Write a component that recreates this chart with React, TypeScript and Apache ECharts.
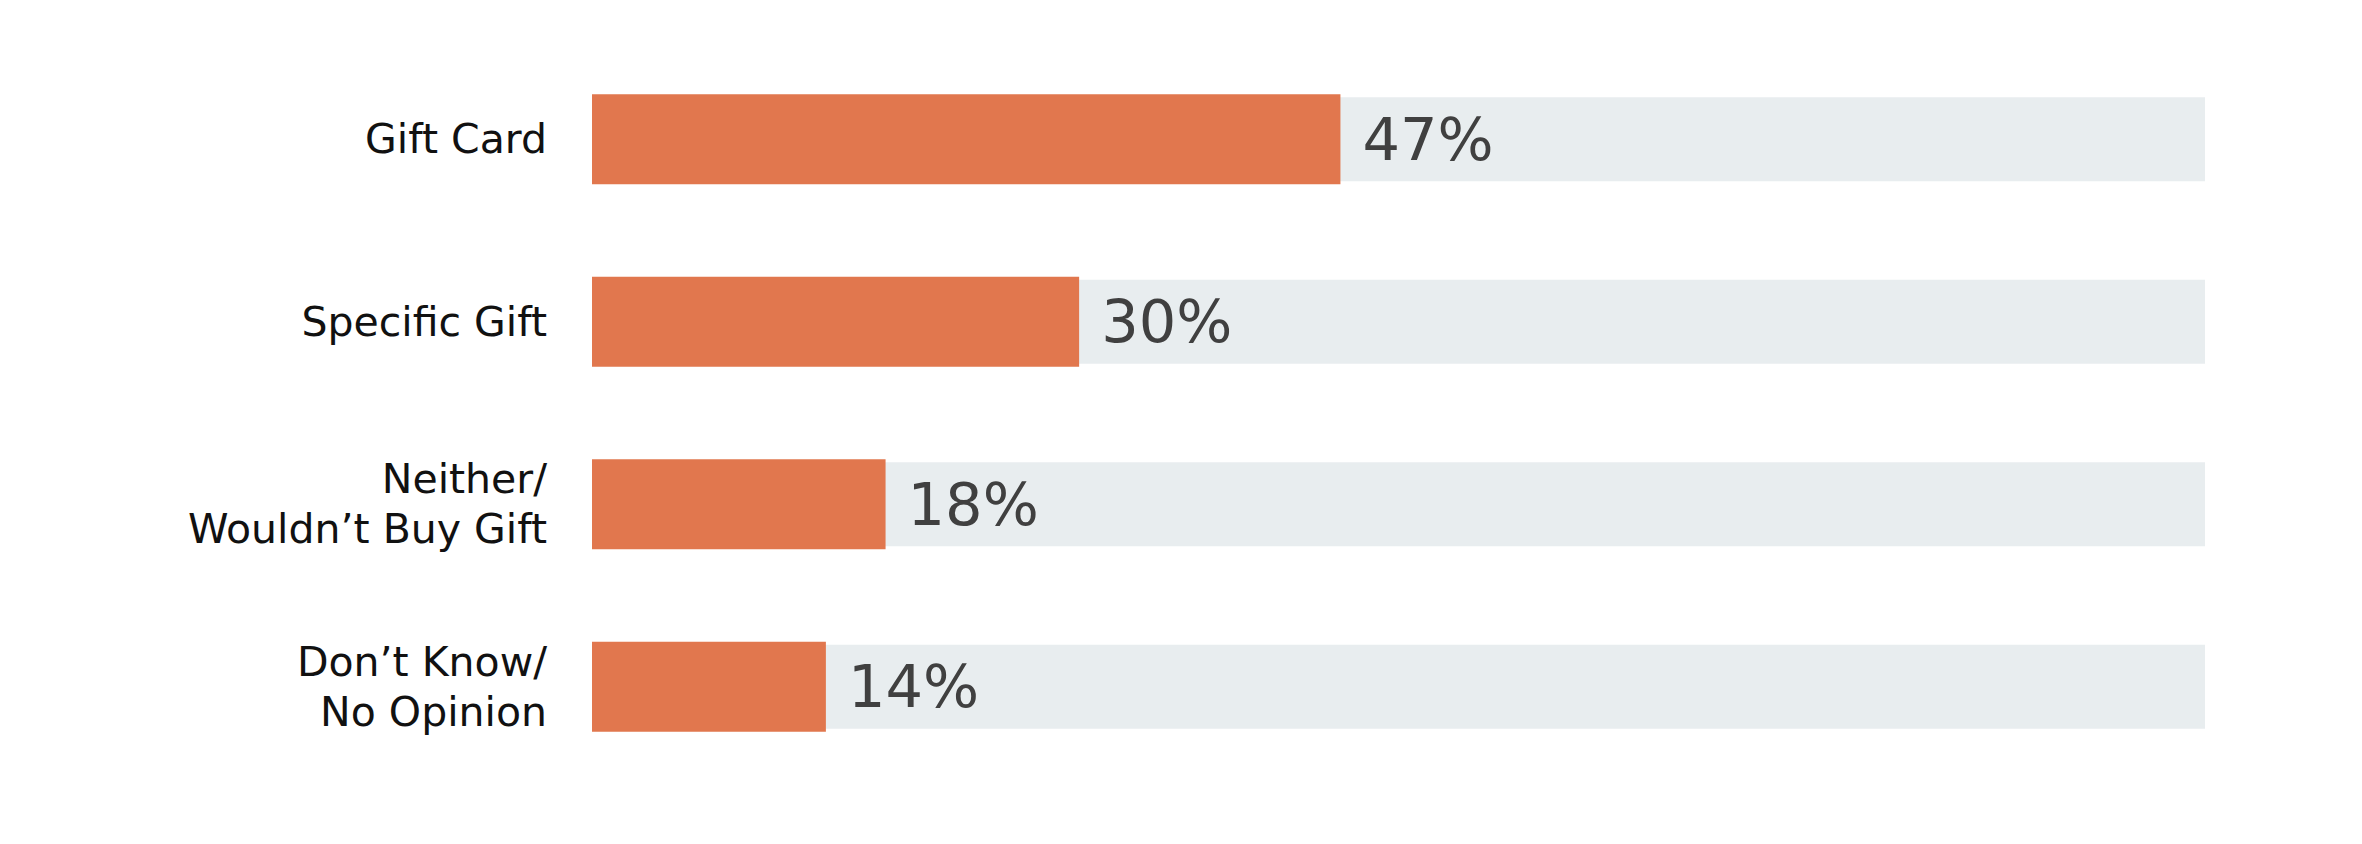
import React, { useEffect, useRef } from "react";
import * as echarts from "echarts";

const categories = ["Gift Card", "Specific Gift", "Neither/\nWouldn’t Buy Gift", "Don’t Know/\nNo Opinion"];
const values = [46.4, 30.2, 18.2, 14.5];
const valueLabels = ["47%", "30%", "18%", "14%"];
const track = [100, 100, 100, 100];

const FONT = "'DejaVu Sans', sans-serif";

export default function App() {
  const ref = useRef<HTMLDivElement>(null);
  useEffect(() => {
    if (!ref.current) return;
    const chart = echarts.init(ref.current, null, { renderer: "svg" });
    chart.setOption({
      animation: false,
      backgroundColor: "#ffffff",
      grid: { left: 592, right: 157, top: 48, bottom: 66, containLabel: false },
      xAxis: { type: "value", min: 0, max: 100, show: false },
      yAxis: [
        {
          type: "category",
          data: categories,
          inverse: true,
          axisLine: { show: false },
          axisTick: { show: false },
          splitLine: { show: false },
          axisLabel: {
            margin: 45,
            align: "right",
            verticalAlign: "middle",
            color: "#111111",
            fontFamily: FONT,
            fontSize: 41,
            lineHeight: 50,
          },
        },
        {
          type: "category",
          data: categories,
          inverse: true,
          show: false,
        },
      ],
      series: [
        {
          type: "bar",
          name: "track",
          yAxisIndex: 0,
          data: track,
          barWidth: 84,
          itemStyle: { color: "#E8EDEF" },
          silent: true,
        },
        {
          type: "bar",
          name: "share",
          yAxisIndex: 1,
          data: values,
          barWidth: 90,
          itemStyle: { color: "#E1774E" },
          label: {
            show: true,
            position: "right",
            distance: 22,
            fontFamily: FONT,
            fontSize: 59,
            color: "#404040",
            formatter: (p: any) => valueLabels[p.dataIndex],
          },
        },
      ],
    });
    return () => chart.dispose();
  }, []);
  return (
    <div
      ref={ref}
      style={{ position: "fixed", left: 0, top: 0, width: 2362, height: 844 }}
    />
  );
}
